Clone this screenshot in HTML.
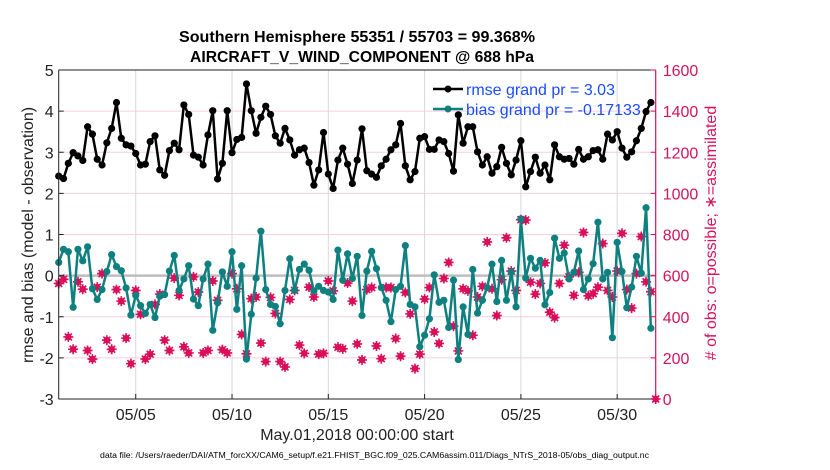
<!DOCTYPE html>
<html><head><meta charset="utf-8">
<style>
html,body{margin:0;padding:0;background:#fff;}
svg{display:block;font-family:"Liberation Sans",Arial,sans-serif;}
</style></head>
<body>
<svg id="chart" width="830" height="470" viewBox="0 0 830 470" xmlns="http://www.w3.org/2000/svg">
  <rect x="0" y="0" width="830" height="470" fill="#fff"/>
  <g id="grid"></g>
  <g id="marks"></g>
  <g id="axes"></g>
  <text x="357" y="42" text-anchor="middle" font-size="15.5" font-weight="bold" textLength="356" lengthAdjust="spacingAndGlyphs">Southern Hemisphere 55351 / 55703 = 99.368%</text>
  <text x="362" y="62" text-anchor="middle" font-size="15.5" font-weight="bold" textLength="344" lengthAdjust="spacingAndGlyphs">AIRCRAFT_V_WIND_COMPONENT @ 688 hPa</text>
  <text x="0" y="0" transform="translate(33,235) rotate(-90)" text-anchor="middle" font-size="16" fill="#222">rmse and bias (model - observation)</text>
  <text x="0" y="0" transform="translate(716,233) rotate(-90)" text-anchor="middle" font-size="16" fill="#d4145a"># of obs: o=possible; ∗=assimilated</text>
  <text x="357" y="440" text-anchor="middle" font-size="16" fill="#222">May.01,2018 00:00:00 start</text>
  <text x="100" y="458" font-size="8" fill="#000" textLength="549" lengthAdjust="spacingAndGlyphs">data file: /Users/raeder/DAI/ATM_forcXX/CAM6_setup/f.e21.FHIST_BGC.f09_025.CAM6assim.011/Diags_NTrS_2018-05/obs_diag_output.nc</text>
  <g id="legend">
    <g>
      <line x1="433" y1="89" x2="463" y2="89" stroke="#000" stroke-width="2.5"/>
      <circle cx="448" cy="89" r="3.5" fill="#000"/>
      <text x="466" y="95" font-size="16" fill="#1a4cff">rmse grand pr = 3.03</text>
    </g>
    <g>
      <line x1="433" y1="109" x2="463" y2="109" stroke="#0f8080" stroke-width="2.5"/>
      <circle cx="448" cy="109" r="3.5" fill="#0f8080"/>
      <text x="466" y="115" font-size="16" fill="#1a4cff">bias grand pr = -0.17133</text>
    </g>
  </g>
</svg>
<script>
// ---- data (6-hourly from May 1 00Z) ----
const xTickDays = [5, 10, 15, 20, 25, 30];
const xTickLabels = ["05/05", "05/10", "05/15", "05/20", "05/25", "05/30"];
const yTicks = [-3, -2, -1, 0, 1, 2, 3, 4, 5];
const rightTicks = [0, 200, 400, 600, 800, 1000, 1200, 1400, 1600];
const rmse = [2.42,2.36,2.73,2.99,2.91,2.80,3.62,3.44,2.83,
2.69,3.23,3.58,4.21,3.34,3.18,3.15,2.97,2.69,2.71,3.26,3.40,2.57,2.44,3.04,3.22,3.06,4.15,3.92,2.93,2.88,2.69,3.42,4.01,2.35,2.73,4.01,2.99,3.31,3.36,4.66,4.01,3.46,3.85,4.12,3.92,3.40,3.22,3.58,3.30,2.93,3.06,3.10,2.75,2.20,2.57,3.48,2.47,2.12,2.81,3.10,2.71,2.24,2.81,3.57,2.55,2.47,2.39,
2.67,2.83,3.06,3.18,3.70,2.67,2.33,2.53,3.34,3.38,3.07,3.07,3.30,3.26,2.97,2.54,3.91,3.22,3.62,3.62,3.01,2.69,2.89,2.49,2.65,3.12,2.73,2.45,2.81,3.28,2.16,2.53,2.88,2.49,2.69,2.33,3.18,2.89,2.83,2.85,2.71,3.07,2.83,2.89,3.04,3.06,2.83,3.44,3.30,3.50,3.10,2.88,3.01,3.28,3.58,3.99,4.21];
const bias = [0.32,0.64,0.58,-0.77,0.64,0.36,0.70,-0.32,-0.58,-0.34,0.10,0.51,0.22,0.12,-0.30,-0.96,
-0.48,-0.73,-0.92,-0.70,-1.02,-0.50,-0.46,0.11,0.49,-0.36,-0.08,0.24,-0.57,-0.73,-0.08,0.28,-1.33,-0.66,0.09,-0.26,0.58,-0.82,0.24,-2.03,-0.94,-0.06,1.08,-0.34,-0.70,-0.75,-1.17,-0.36,
0.41,-0.36,0.15,0.28,0.13,-0.37,-0.26,-0.36,-0.40,-0.58,0.62,-0.11,0.53,-0.07,0.47,-0.97,0.11,0.59,0.17,-0.29,-0.60,-1.12,-0.34,-0.26,0.73,-0.70,-0.76,-1.73,-1.45,-1.05,0.02,-0.65,-0.60,-1.26,-0.11,-2.04,-0.76,-1.43,0.15,-0.91,
-0.60,-0.29,0.28,-0.63,0.37,-0.60,0.09,-0.76,1.38,-0.06,0.42,0.18,0.37,-0.71,-0.41,0.91,0.42,0.55,-0.08,0.08,0.60,-0.34,-0.08,0.29,1.30,-0.08,0.08,-1.51,0.81,0.10,-0.78,-0.28,0.47,0.06,1.65,-1.28];
const nobs = [562,582,302,242,570,534,236,194,544,610,286,242,532,476,296,172,528,412,194,218,460,510,286,236,588,504,254,224,594,520,224,236,574,480,240,224,610,536,314,220,488,496,272,182,494,416,182,156,
484,528,262,222,544,496,218,222,574,526,252,244,564,476,268,190,532,542,258,196,542,542,294,208,518,414,148,218,486,542,326,270,586,664,354,234,536,526,310,496,
548,764,536,406,580,784,622,528,872,870,568,510,562,662,422,396,562,748,594,504,616,810,502,512,544,756,528,496,622,806,532,442,610,790,570,522,0];

// ---- axes ----
const L = 58.7, R = 655.7, T = 70, B = 399;
const dayMin = 1, dayMax = 32, stepDays = 0.25;
const xDay = d => L + (d - dayMin) / (dayMax - dayMin) * (R - L);
const xIdx = i => xDay(dayMin + i * stepDays);
const yL = v => T + (5 - v) / 8 * (B - T);
const yR = n => B - n / 1600 * (B - T);
const NS = "http://www.w3.org/2000/svg";
function mk(tag, attrs, parent) {
  const e = document.createElementNS(NS, tag);
  for (const k in attrs) e.setAttribute(k, attrs[k]);
  parent.appendChild(e);
  return e;
}
const grid = document.getElementById('grid');
const marks = document.getElementById('marks');
const axes = document.getElementById('axes');

// horizontal grid
yTicks.forEach(v => {
  if (v === 5 || v === -3) return;
  const g = mk('line', {x1: L, x2: R, y1: yL(v), y2: yL(v), stroke: '#f5cfe0', 'stroke-width': 1}, grid);
  
  
});
xTickDays.forEach(d => {
  const g = mk('line', {x1: xDay(d), x2: xDay(d), y1: T, y2: B, stroke: '#d8d8d8', 'stroke-width': 1}, grid);
  
  
});
const zl = mk('line', {x1: L, x2: R, y1: yL(0), y2: yL(0), stroke: '#bdbdbd', 'stroke-width': 2.5}, grid);



// obs markers (red)
nobs.forEach((n, i) => {
  const cx = xIdx(i), cy = yR(n);
  const g = mk('g', {}, marks);
  
  
  mk('circle', {cx: cx, cy: cy, r: 3.3, fill: '#d90f5a'}, g);
  mk('path', {d: `M${cx-5} ${cy}H${cx+5}M${cx} ${cy-5}V${cy+5}M${cx-3.5} ${cy-3.5}L${cx+3.5} ${cy+3.5}M${cx-3.5} ${cy+3.5}L${cx+3.5} ${cy-3.5}`, stroke: '#d90f5a', 'stroke-width': 1.6}, g);
});

function series(vals, color, name) {
  const g = mk('g', {}, marks);
  
  
  const pts = vals.map((v, i) => xIdx(i).toFixed(2) + ',' + yL(v).toFixed(2)).join(' ');
  const pl = mk('polyline', {points: pts, fill: 'none', stroke: color, 'stroke-width': 2.5, 'stroke-linejoin': 'round'}, g);
  
  
  vals.forEach((v, i) => {
    const c = mk('circle', {cx: xIdx(i), cy: yL(v), r: 3.6, fill: color}, g);
    
    
  });
}
series(bias, '#0f8080', 'bias-series');
series(rmse, '#000000', 'rmse-series');

// frame
const lf = mk('line', {x1: L, x2: L, y1: T, y2: B, stroke: '#222', 'stroke-width': 1}, axes);
 
const tf = mk('line', {x1: L, x2: R, y1: T, y2: T, stroke: '#222', 'stroke-width': 1}, axes);
 
const bf = mk('line', {x1: L, x2: R, y1: B, y2: B, stroke: '#222', 'stroke-width': 1}, axes);
 
const rf = mk('line', {x1: R, x2: R, y1: T, y2: B, stroke: '#d90f5a', 'stroke-width': 1.2}, axes);
 

yTicks.forEach(v => {
  const t = mk('line', {x1: L, x2: L + 5, y1: yL(v), y2: yL(v), stroke: '#222'}, axes);
   
  const tx = mk('text', {x: L - 5, y: yL(v) + 6, 'text-anchor': 'end', 'font-size': 16, fill: '#222'}, axes);
  tx.textContent = String(v);
   
});
rightTicks.forEach(n => {
  const t = mk('line', {x1: R - 5, x2: R, y1: yR(n), y2: yR(n), stroke: '#d90f5a'}, axes);
   
  const tx = mk('text', {x: R + 7, y: yR(n) + 6, 'font-size': 16, fill: '#d4145a'}, axes);
  tx.textContent = String(n);
   
});
xTickDays.forEach((d, k) => {
  const t = mk('line', {x1: xDay(d), x2: xDay(d), y1: B - 5, y2: B, stroke: '#222'}, axes);
   
  const tx = mk('text', {x: xDay(d), y: 420, 'text-anchor': 'middle', 'font-size': 16, fill: '#222'}, axes);
  tx.textContent = xTickLabels[k];
   
});
</script>
</body></html>
